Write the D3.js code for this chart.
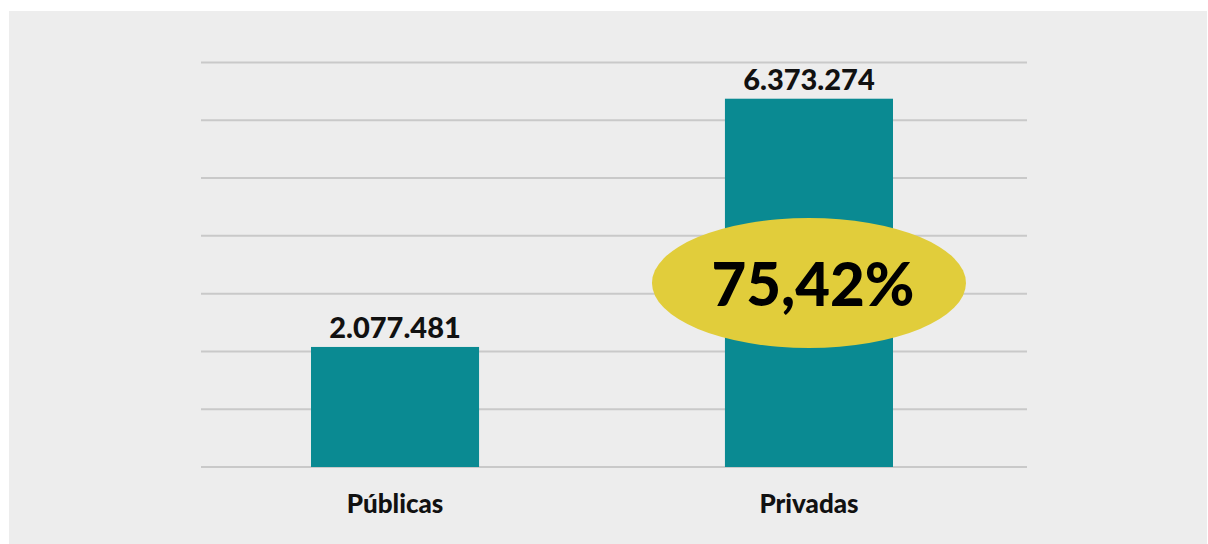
<!DOCTYPE html>
<html>
<head>
<meta charset="utf-8">
<script src="https://cdn.jsdelivr.net/npm/d3@7"></script>
<style>
	body { margin: 0; background: #ffffff; }
	svg { display: block; }
</style>
</head>
<body>
<div id="chart"></div>
<script>
var categories = ["Públicas", "Privadas"];
var values = [2077481, 6373274];
var valueLabels = ["2.077.481", "6.373.274"];
var gridTicks = [0, 1000000, 2000000, 3000000, 4000000, 5000000, 6000000, 7000000];
var highlightLabel = "75,42%";

var svg = d3.select('#chart').append('svg')
	.attr('width', 1208)
	.attr('height', 544);

svg.append('rect')
	.attr('x', 9)
	.attr('y', 11)
	.attr('width', 1198)
	.attr('height', 533)
	.attr('fill', '#ededed');

var xscale = d3.scaleBand()
	.domain(categories)
	.range([311, 893])
	.paddingInner(0.594)
	.paddingOuter(0);

var yscale = d3.scaleLinear()
	.domain([0, 7000000])
	.range([467, 62.5]);

svg.append('g')
	.selectAll('line')
	.data(gridTicks)
	.enter()
	.append('line')
	.attr('x1', 201)
	.attr('x2', 1027)
	.attr('y1', function (d) { return yscale(d); })
	.attr('y2', function (d) { return yscale(d); })
	.attr('stroke', '#c9c9c9')
	.attr('stroke-width', 2);

svg.append('g')
	.selectAll('rect')
	.data(values)
	.enter()
	.append('rect')
	.attr('x', function (d, i) { return xscale(categories[i]); })
	.attr('y', function (d) { return yscale(d); })
	.attr('width', xscale.bandwidth())
	.attr('height', function (d) { return yscale(0) - yscale(d); })
	.attr('fill', '#0a8a92');

svg.append('g')
	.selectAll('text')
	.data(values)
	.enter()
	.append('text')
	.attr('x', function (d, i) { return xscale(categories[i]) + xscale.bandwidth() / 2; })
	.attr('y', function (d) { return yscale(d) - 9; })
	.attr('text-anchor', 'middle')
	.attr('font-family', 'Lato, sans-serif')
	.attr('font-weight', '900')
	.attr('font-size', '29px')
	.attr('fill', '#111')
	.text(function (d, i) { return valueLabels[i]; });

// category labels under the bars
var xaxis = svg.append('g')
	.attr('transform', 'translate(0,467)')
	.call(d3.axisBottom(xscale).tickSize(0).tickPadding(0));
xaxis.select('.domain').remove();
xaxis.selectAll('text')
	.attr('dy', null)
	.attr('y', 46)
	.attr('font-family', 'Lato, sans-serif')
	.attr('font-weight', '900')
	.attr('font-size', '26px')
	.attr('fill', '#111');

// highlight ellipse on the private bar
var cx = xscale("Privadas") + xscale.bandwidth() / 2;
svg.append('ellipse')
	.attr('cx', cx)
	.attr('cy', 283)
	.attr('rx', 157)
	.attr('ry', 65)
	.attr('fill', '#e1cd3b');

svg.append('text')
	.attr('x', cx + 4)
	.attr('y', 306)
	.attr('text-anchor', 'middle')
	.attr('font-family', 'Lato, sans-serif')
	.attr('font-weight', '900')
	.attr('font-size', '60px')
	.attr('fill', '#000')
	.text(highlightLabel);
</script>
</body>
</html>
